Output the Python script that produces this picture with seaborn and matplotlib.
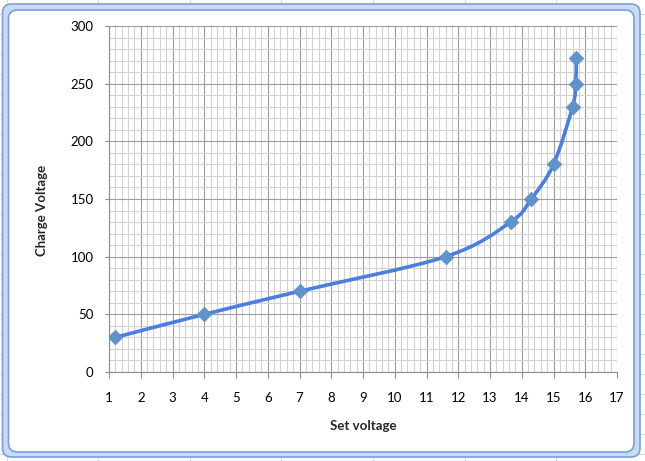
"""
plot.py
Charge voltage vs set voltage, drawn in the style of the old Excel chart
(graph-paper grid, smoothed line, diamond markers, blue chart frame).
"""

import numpy as np
import pandas as pd
import matplotlib
matplotlib.use("Agg")
import matplotlib.pyplot as plt
from matplotlib.path import Path
from matplotlib.patches import PathPatch, FancyBboxPatch
from matplotlib.ticker import MultipleLocator
import seaborn as sns

# data
set_voltage = [1.2, 4, 7, 11.6, 13.65, 14.3, 15.0, 15.6, 15.7, 15.72]
charge_voltage = [30, 50, 70, 100, 130, 150, 180, 230, 250, 272]

x_ticks = list(range(1, 18))
y_ticks = [0, 50, 100, 150, 200, 250, 300]

df = pd.DataFrame({"set": set_voltage, "charge": charge_voltage})

sns.set_theme(style="white")
plt.rcParams["font.family"] = ["Lato", "DejaVu Sans"]

W, H = 645, 461
fig = plt.figure(figsize=(W / 100, H / 100), dpi=100)

# background: spreadsheet cells + the blue chart frame, in pixel coords
bg = fig.add_axes([0, 0, 1, 1], zorder=0)
bg.set_xlim(0, W)
bg.set_ylim(H, 0)
bg.axis("off")
for cx in np.arange(6.5, W + 1, 91.6):
    bg.plot([cx, cx], [0, H], color="#d8d8d8", lw=0.8, zorder=0)
for cy in np.arange(14, H + 1, 20):
    bg.plot([0, W], [cy, cy], color="#d8d8d8", lw=0.8, zorder=0)

bg.add_patch(FancyBboxPatch((2.5, 4), 637.5, 453,
                            boxstyle="round,pad=0,rounding_size=9",
                            fc="#c9dbf2", ec="#7a9fd9", lw=1.2, zorder=5))
bg.add_patch(FancyBboxPatch((8.5, 10), 625.5, 442,
                            boxstyle="round,pad=0,rounding_size=9",
                            fc="white", ec="#7a9fd9", lw=1.2, zorder=6))

# plot area
ax = fig.add_axes([109 / W, 1 - 372 / H, 508 / W, 346 / H], zorder=1)
ax.set_facecolor("none")

# smoothed line through the points (Catmull-Rom as cubic Bezier)
pts = df[["set", "charge"]].to_numpy(dtype=float)
n = len(pts)
verts = [pts[0]]
codes = [Path.MOVETO]
for i in range(n - 1):
    p0 = pts[max(i - 1, 0)]
    p1 = pts[i]
    p2 = pts[i + 1]
    p3 = pts[min(i + 2, n - 1)]
    verts += [p1 + (p2 - p0) / 6, p2 - (p3 - p1) / 6, p2]
    codes += [Path.CURVE4] * 3
ax.add_patch(PathPatch(Path(verts, codes), fill=False, ec="#4a7fe0",
                       lw=2.6, capstyle="round", joinstyle="round", zorder=3))

sns.scatterplot(data=df, x="set", y="charge", marker="D", s=55,
                color="#6093c9", edgecolor="#5b8cc2", linewidth=0.5,
                ax=ax, zorder=4)

ax.set_xlim(1, 17)
ax.set_ylim(0, 300)
ax.set_xticks(x_ticks)
ax.set_yticks(y_ticks)
ax.xaxis.set_minor_locator(MultipleLocator(0.2))
ax.yaxis.set_minor_locator(MultipleLocator(10))

ax.grid(which="minor", color="#d2d2d2", lw=0.8, zorder=1)
ax.grid(which="major", color="#9c9c9c", lw=0.8, zorder=2)
ax.set_axisbelow(True)

for side in ["top", "right"]:
    ax.spines[side].set_visible(False)
for side in ["left", "bottom"]:
    ax.spines[side].set_color("#8c8c8c")
    ax.spines[side].set_linewidth(0.8)

ax.tick_params(axis="x", which="major", direction="out", length=4.5,
               width=0.8, color="#8c8c8c", pad=10, labelsize=9.5,
               labelcolor="black", bottom=True)
ax.tick_params(axis="y", which="major", direction="out", length=3,
               width=0.8, color="#8c8c8c", pad=8, labelsize=9.5,
               labelcolor="black", left=True)
ax.tick_params(which="minor", length=0)

ax.set_xlabel("Set voltage", fontsize=9.5, fontweight="bold", va="center")
ax.set_ylabel("Charge Voltage", fontsize=9.5, fontweight="bold", va="center")
ax.xaxis.set_label_coords(0.5, (372 - 426) / 346)
ax.yaxis.set_label_coords((42 - 109) / 508, (372 - 210) / 346)

plt.savefig("out.png", dpi=100)
